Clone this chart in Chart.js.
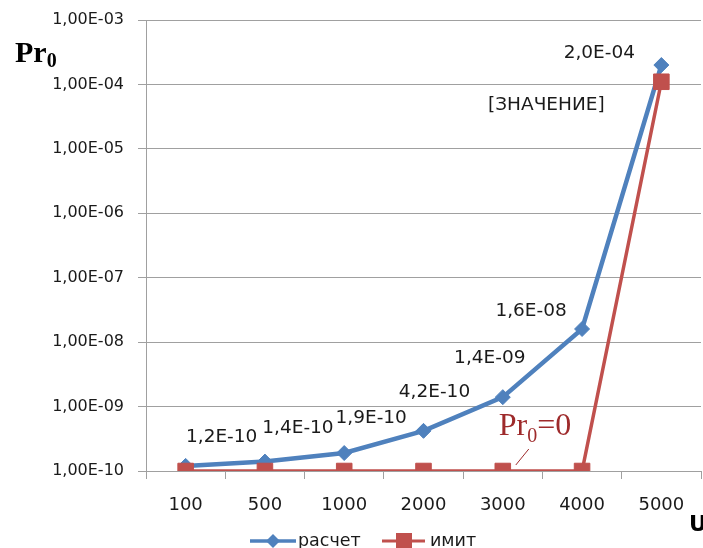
<!DOCTYPE html>
<html lang="ru">
<head>
<meta charset="UTF-8">
<title>Pr0 — расчет / имит</title>
<script src="https://cdn.jsdelivr.net/npm/chart.js"></script>
<style>
  html, body { margin: 0; padding: 0; background: #fff; }
  .wrap { width: 703px; height: 548px; }
</style>
</head>
<body>
<div class="wrap"><canvas id="grafico" width="703" height="548"></canvas></div>
<script>
// dados
const categorias = ['100', '500', '1000', '2000', '3000', '4000', '5000'];
const raschet = [1.2e-10, 1.4e-10, 1.9e-10, 4.2e-10, 1.4e-9, 1.6e-8, 2.0e-4];
const imit = [1e-10, 1e-10, 1e-10, 1e-10, 1e-10, 1e-10, 1.1e-4];
const yTicks = [1e-10, 1e-9, 1e-8, 1e-7, 1e-6, 1e-5, 1e-4, 1e-3];
const rotulosImit = [null, null, null, null, null, null, '[ЗНАЧЕНИЕ]'];

const FONTE = '"DejaVu Sans", Verdana, sans-serif';
const SERIF = '"Liberation Serif", "Times New Roman", serif';
const AZUL = '#4F81BD';
const VERMELHO = '#C0504D';
const TEXTO = '#1a1a1a';
const GRADE = '#a0a0a0';

// 1.2e-10 -> "1,2E-10"
function formatar(v, casas) {
  const s = v.toExponential(casas);
  const [m, e] = s.split('e');
  const sinal = e[0] === '-' ? '-' : '+';
  let num = e.replace(/[-+]/, '');
  if (num.length < 2) num = '0' + num;
  return m.replace('.', ',') + 'E' + sinal + num;
}

// deslocamento dos rótulos em relação ao ponto (centro do texto)
const deslocRaschet = [[36, -29], [33, -33], [27, -35], [11, -39], [-13, -39], [-51, -18], [-62, -12]];
const deslocImit = [null, null, null, null, null, null, [-115, 23]];

const extras = {
  id: 'extras',
  beforeDatasetsDraw(chart) {
    // eixo Y continua até o fim das marcas do eixo X
    const ctx = chart.ctx;
    const a = chart.chartArea;
    ctx.save();
    ctx.strokeStyle = GRADE;
    ctx.lineWidth = 1;
    ctx.beginPath();
    ctx.moveTo(a.left + 0.5, a.bottom);
    ctx.lineTo(a.left + 0.5, a.bottom + 8);
    ctx.stroke();
    ctx.restore();
  },
  afterDatasetsDraw(chart) {
    const ctx = chart.ctx;
    ctx.save();

    // rótulos de dados
    ctx.font = '18.5px ' + FONTE;
    ctx.fillStyle = TEXTO;
    ctx.textAlign = 'center';
    ctx.textBaseline = 'middle';
    const pa = chart.getDatasetMeta(0).data;
    pa.forEach((p, i) => {
      const d = deslocRaschet[i];
      ctx.fillText(formatar(raschet[i], 1), p.x + d[0], p.y + d[1]);
    });
    const pv = chart.getDatasetMeta(1).data;
    pv.forEach((p, i) => {
      if (!rotulosImit[i]) return;
      const d = deslocImit[i];
      ctx.fillText(rotulosImit[i], p.x + d[0], p.y + d[1]);
    });

    // anotação Pr0=0 com linha de chamada
    const ref = pv[4];
    ctx.strokeStyle = '#9e2a2b';
    ctx.lineWidth = 1;
    ctx.beginPath();
    ctx.moveTo(ref.x + 13, ref.y - 6);
    ctx.lineTo(ref.x + 26, ref.y - 22);
    ctx.stroke();
    ctx.fillStyle = '#9e2a2b';
    ctx.textAlign = 'left';
    ctx.textBaseline = 'alphabetic';
    let x = ref.x - 4;
    const yb = ref.y - 36;
    ctx.font = '32px ' + SERIF;
    ctx.fillText('Pr', x, yb);
    x += ctx.measureText('Pr').width;
    ctx.font = '20px ' + SERIF;
    ctx.fillText('0', x, yb + 7);
    x += ctx.measureText('0').width;
    ctx.font = '32px ' + SERIF;
    ctx.fillText('=0', x, yb);

    // título do eixo Y
    ctx.fillStyle = '#000';
    ctx.font = 'bold 30px ' + SERIF;
    ctx.fillText('Pr', 15, 62);
    const w = ctx.measureText('Pr').width;
    ctx.font = 'bold 20px ' + SERIF;
    ctx.fillText('0', 15 + w, 67);

    // título do eixo X
    ctx.font = 'bold 22px ' + FONTE;
    ctx.fillText('U', 689, 531);

    // legenda
    const yl = 541;
    ctx.lineWidth = 3.5;
    ctx.strokeStyle = AZUL;
    ctx.beginPath(); ctx.moveTo(250, yl); ctx.lineTo(296, yl); ctx.stroke();
    ctx.fillStyle = AZUL;
    ctx.beginPath();
    ctx.moveTo(273, yl - 7); ctx.lineTo(280, yl); ctx.lineTo(273, yl + 7); ctx.lineTo(266, yl);
    ctx.closePath(); ctx.fill();
    ctx.lineWidth = 3;
    ctx.strokeStyle = VERMELHO;
    ctx.beginPath(); ctx.moveTo(382, yl); ctx.lineTo(425, yl); ctx.stroke();
    ctx.fillStyle = VERMELHO;
    ctx.fillRect(396, yl - 8, 16, 16);
    ctx.fillStyle = TEXTO;
    ctx.font = '17.5px ' + FONTE;
    ctx.textBaseline = 'middle';
    ctx.fillText('расчет', 298, yl);
    ctx.fillText('имит', 430, yl);

    ctx.restore();
  }
};

const grafico = new Chart(document.getElementById('grafico'), {
  type: 'line',
  data: {
    labels: categorias,
    datasets: [
      {
        label: 'расчет',
        data: raschet,
        borderColor: AZUL,
        backgroundColor: AZUL,
        borderWidth: 4.5,
        pointStyle: 'rectRot',
        pointRadius: 7.5,
        pointBorderWidth: 1,
        tension: 0,
        order: 1
      },
      {
        label: 'имит',
        data: imit,
        borderColor: VERMELHO,
        backgroundColor: VERMELHO,
        borderWidth: 3.5,
        pointStyle: 'rect',
        pointRadius: 11,
        pointBorderWidth: 1,
        tension: 0,
        order: 0
      }
    ]
  },
  options: {
    responsive: false,
    animation: false,
    layout: { autoPadding: false, padding: { top: 20, right: 2, left: 0, bottom: 0 } },
    plugins: {
      legend: { display: false },
      tooltip: { enabled: false }
    },
    scales: {
      x: {
        offset: true,
        grid: { offset: true, drawOnChartArea: false, tickLength: 8, color: GRADE },
        border: { color: GRADE },
        ticks: { color: TEXTO, font: { family: FONTE, size: 18 }, padding: 16, maxRotation: 0 },
        afterFit(s) { s.height = 77; s.paddingLeft = 0; s.paddingRight = 0; }
      },
      y: {
        type: 'logarithmic',
        min: 1e-10,
        max: 1e-3,
        afterBuildTicks(s) { s.ticks = yTicks.map(v => ({ value: v })); },
        grid: { color: GRADE, tickLength: 8 },
        border: { color: GRADE },
        ticks: {
          color: TEXTO,
          font: { family: FONTE, size: 16 },
          padding: 14,
          callback: v => formatar(v, 2)
        },
        afterFit(s) { s.width = 146; s.paddingTop = 0; s.paddingBottom = 0; }
      }
    }
  },
  plugins: [extras]
});
</script>
</body>
</html>
